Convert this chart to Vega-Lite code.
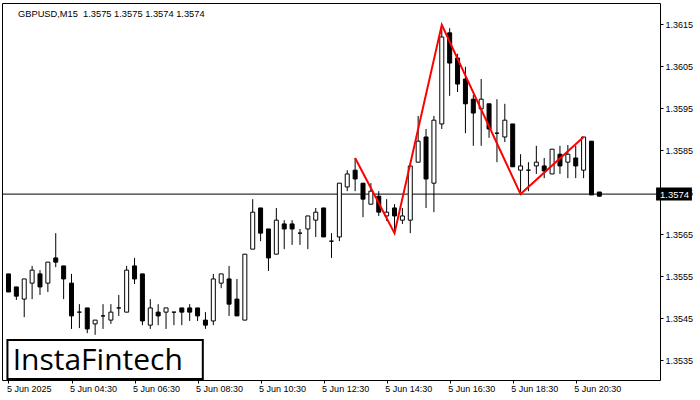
{
  "$schema": "https://vega.github.io/schema/vega-lite/v6.json",
  "width": 658,
  "height": 377,
  "autosize": {"type": "none"},
  "padding": {"left": 2, "top": 3, "right": 40, "bottom": 20},
  "background": "white",
  "config": {
    "view": {"stroke": "black", "strokeWidth": 1},
    "font": "Liberation Sans, sans-serif"
  },
  "title": {
    "text": "GBPUSD,M15\u00a0 1.3575 1.3575 1.3574 1.3574",
    "anchor": "start",
    "frame": "group",
    "offset": -13,
    "dx": 16,
    "dy": 10,
    "fontSize": 9.3,
    "fontWeight": "normal",
    "color": "black",
    "baseline": "alphabetic"
  },
  "datasets": {
    "candles": [
      {"t": "2025-06-05T02:30", "open": 1.35555, "high": 1.35555, "low": 1.35512, "close": 1.35512},
      {"t": "2025-06-05T02:45", "open": 1.35524, "high": 1.35524, "low": 1.35493, "close": 1.35502},
      {"t": "2025-06-05T03:00", "open": 1.35495, "high": 1.35543, "low": 1.35452, "close": 1.35543},
      {"t": "2025-06-05T03:15", "open": 1.35533, "high": 1.35574, "low": 1.35495, "close": 1.35564},
      {"t": "2025-06-05T03:30", "open": 1.35555, "high": 1.35564, "low": 1.35505, "close": 1.35524},
      {"t": "2025-06-05T03:45", "open": 1.35533, "high": 1.35583, "low": 1.35512, "close": 1.35583},
      {"t": "2025-06-05T04:00", "open": 1.35593, "high": 1.35652, "low": 1.35571, "close": 1.35583},
      {"t": "2025-06-05T04:15", "open": 1.35574, "high": 1.35574, "low": 1.35495, "close": 1.35543},
      {"t": "2025-06-05T04:30", "open": 1.35533, "high": 1.35555, "low": 1.35424, "close": 1.35455},
      {"t": "2025-06-05T04:45", "open": 1.35464, "high": 1.35483, "low": 1.35426, "close": 1.35464},
      {"t": "2025-06-05T05:00", "open": 1.35474, "high": 1.35474, "low": 1.35414, "close": 1.35424},
      {"t": "2025-06-05T05:15", "open": 1.35436, "high": 1.35445, "low": 1.35410, "close": 1.35445},
      {"t": "2025-06-05T05:30", "open": 1.35455, "high": 1.35483, "low": 1.35424, "close": 1.35455},
      {"t": "2025-06-05T05:45", "open": 1.35445, "high": 1.35483, "low": 1.35436, "close": 1.35464},
      {"t": "2025-06-05T06:00", "open": 1.35474, "high": 1.35505, "low": 1.35455, "close": 1.35474},
      {"t": "2025-06-05T06:15", "open": 1.35464, "high": 1.35574, "low": 1.35464, "close": 1.35564},
      {"t": "2025-06-05T06:30", "open": 1.35574, "high": 1.35593, "low": 1.35531, "close": 1.35543},
      {"t": "2025-06-05T06:45", "open": 1.35555, "high": 1.35555, "low": 1.35433, "close": 1.35443},
      {"t": "2025-06-05T07:00", "open": 1.35433, "high": 1.35495, "low": 1.35424, "close": 1.35474},
      {"t": "2025-06-05T07:15", "open": 1.35464, "high": 1.35483, "low": 1.35433, "close": 1.35455},
      {"t": "2025-06-05T07:30", "open": 1.35464, "high": 1.35474, "low": 1.35424, "close": 1.35474},
      {"t": "2025-06-05T07:45", "open": 1.35464, "high": 1.35464, "low": 1.35433, "close": 1.35464},
      {"t": "2025-06-05T08:00", "open": 1.35474, "high": 1.35474, "low": 1.35433, "close": 1.35464},
      {"t": "2025-06-05T08:15", "open": 1.35474, "high": 1.35483, "low": 1.35443, "close": 1.35464},
      {"t": "2025-06-05T08:30", "open": 1.35474, "high": 1.35474, "low": 1.35443, "close": 1.35455},
      {"t": "2025-06-05T08:45", "open": 1.35445, "high": 1.35464, "low": 1.35424, "close": 1.35433},
      {"t": "2025-06-05T09:00", "open": 1.35443, "high": 1.35555, "low": 1.35433, "close": 1.35543},
      {"t": "2025-06-05T09:15", "open": 1.35533, "high": 1.35555, "low": 1.35521, "close": 1.35555},
      {"t": "2025-06-05T09:30", "open": 1.35543, "high": 1.35574, "low": 1.35455, "close": 1.35483},
      {"t": "2025-06-05T09:45", "open": 1.35495, "high": 1.35543, "low": 1.35455, "close": 1.35455},
      {"t": "2025-06-05T10:00", "open": 1.35445, "high": 1.35602, "low": 1.35445, "close": 1.35602},
      {"t": "2025-06-05T10:15", "open": 1.35614, "high": 1.35733, "low": 1.35614, "close": 1.35702},
      {"t": "2025-06-05T10:30", "open": 1.35712, "high": 1.35712, "low": 1.35633, "close": 1.35652},
      {"t": "2025-06-05T10:45", "open": 1.35662, "high": 1.35662, "low": 1.35562, "close": 1.35593},
      {"t": "2025-06-05T11:00", "open": 1.35602, "high": 1.35712, "low": 1.35602, "close": 1.35683},
      {"t": "2025-06-05T11:15", "open": 1.35674, "high": 1.35683, "low": 1.35614, "close": 1.35662},
      {"t": "2025-06-05T11:30", "open": 1.35674, "high": 1.35683, "low": 1.35624, "close": 1.35662},
      {"t": "2025-06-05T11:45", "open": 1.35652, "high": 1.35662, "low": 1.35624, "close": 1.35652},
      {"t": "2025-06-05T12:00", "open": 1.35662, "high": 1.35693, "low": 1.35614, "close": 1.35693},
      {"t": "2025-06-05T12:15", "open": 1.35683, "high": 1.35712, "low": 1.35643, "close": 1.35702},
      {"t": "2025-06-05T12:30", "open": 1.35712, "high": 1.35712, "low": 1.35643, "close": 1.35643},
      {"t": "2025-06-05T12:45", "open": 1.35633, "high": 1.35652, "low": 1.35593, "close": 1.35633},
      {"t": "2025-06-05T13:00", "open": 1.35643, "high": 1.35771, "low": 1.35633, "close": 1.35771},
      {"t": "2025-06-05T13:15", "open": 1.35762, "high": 1.35802, "low": 1.35752, "close": 1.35793},
      {"t": "2025-06-05T13:30", "open": 1.35802, "high": 1.35831, "low": 1.35752, "close": 1.35781},
      {"t": "2025-06-05T13:45", "open": 1.35771, "high": 1.35771, "low": 1.35690, "close": 1.35733},
      {"t": "2025-06-05T14:00", "open": 1.35721, "high": 1.35771, "low": 1.35721, "close": 1.35752},
      {"t": "2025-06-05T14:15", "open": 1.35740, "high": 1.35752, "low": 1.35693, "close": 1.35702},
      {"t": "2025-06-05T14:30", "open": 1.35693, "high": 1.35733, "low": 1.35681, "close": 1.35702},
      {"t": "2025-06-05T14:45", "open": 1.35712, "high": 1.35721, "low": 1.35652, "close": 1.35693},
      {"t": "2025-06-05T15:00", "open": 1.35683, "high": 1.35712, "low": 1.35674, "close": 1.35693},
      {"t": "2025-06-05T15:15", "open": 1.35683, "high": 1.35812, "low": 1.35652, "close": 1.35812},
      {"t": "2025-06-05T15:30", "open": 1.35821, "high": 1.35931, "low": 1.35821, "close": 1.35871},
      {"t": "2025-06-05T15:45", "open": 1.35881, "high": 1.35900, "low": 1.35712, "close": 1.35781},
      {"t": "2025-06-05T16:00", "open": 1.35771, "high": 1.35931, "low": 1.35702, "close": 1.35921},
      {"t": "2025-06-05T16:15", "open": 1.35912, "high": 1.36148, "low": 1.35900, "close": 1.36119},
      {"t": "2025-06-05T16:30", "open": 1.36129, "high": 1.36140, "low": 1.35979, "close": 1.36057},
      {"t": "2025-06-05T16:45", "open": 1.36069, "high": 1.36079, "low": 1.35988, "close": 1.36007},
      {"t": "2025-06-05T17:00", "open": 1.36019, "high": 1.36048, "low": 1.35890, "close": 1.35960},
      {"t": "2025-06-05T17:15", "open": 1.35971, "high": 1.35981, "low": 1.35860, "close": 1.35938},
      {"t": "2025-06-05T17:30", "open": 1.35948, "high": 1.36019, "low": 1.35860, "close": 1.35971},
      {"t": "2025-06-05T17:45", "open": 1.35960, "high": 1.35960, "low": 1.35879, "close": 1.35900},
      {"t": "2025-06-05T18:00", "open": 1.35890, "high": 1.35971, "low": 1.35821, "close": 1.35890},
      {"t": "2025-06-05T18:15", "open": 1.35881, "high": 1.35960, "low": 1.35869, "close": 1.35921},
      {"t": "2025-06-05T18:30", "open": 1.35912, "high": 1.35912, "low": 1.35810, "close": 1.35810},
      {"t": "2025-06-05T18:45", "open": 1.35802, "high": 1.35840, "low": 1.35750, "close": 1.35812},
      {"t": "2025-06-05T19:00", "open": 1.35802, "high": 1.35821, "low": 1.35752, "close": 1.35802},
      {"t": "2025-06-05T19:15", "open": 1.35812, "high": 1.35860, "low": 1.35793, "close": 1.35821},
      {"t": "2025-06-05T19:30", "open": 1.35812, "high": 1.35831, "low": 1.35783, "close": 1.35800},
      {"t": "2025-06-05T19:45", "open": 1.35793, "high": 1.35852, "low": 1.35793, "close": 1.35852},
      {"t": "2025-06-05T20:00", "open": 1.35840, "high": 1.35860, "low": 1.35793, "close": 1.35812},
      {"t": "2025-06-05T20:15", "open": 1.35821, "high": 1.35862, "low": 1.35783, "close": 1.35840},
      {"t": "2025-06-05T20:30", "open": 1.35831, "high": 1.35860, "low": 1.35783, "close": 1.35812},
      {"t": "2025-06-05T20:45", "open": 1.35802, "high": 1.35881, "low": 1.35783, "close": 1.35881},
      {"t": "2025-06-05T21:00", "open": 1.35871, "high": 1.35871, "low": 1.35743, "close": 1.35743},
      {"t": "2025-06-05T21:15", "open": 1.3575, "high": 1.3575, "low": 1.3574, "close": 1.3574}
    ],
    "pattern": [
      {"t": "2025-06-05T13:30", "price": 1.35831},
      {"t": "2025-06-05T14:45", "price": 1.35652},
      {"t": "2025-06-05T16:15", "price": 1.36148},
      {"t": "2025-06-05T18:45", "price": 1.35745},
      {"t": "2025-06-05T20:45", "price": 1.35881}
    ]
  },
  "layer": [
    {
      "data": {"values": [{}]},
      "mark": {"type": "rule", "color": "black", "strokeWidth": 1},
      "encoding": {"y": {"datum": 1.35745, "type": "quantitative"}}
    },
    {
      "data": {"name": "candles"},
      "mark": {"type": "rule", "color": "black", "strokeWidth": 1},
      "encoding": {
        "x": {
          "field": "t",
          "type": "temporal",
          "scale": {
            "domain": [
              {"year": 2025, "month": 6, "date": 5, "hours": 2, "minutes": 27, "seconds": 11, "milliseconds": 250},
              {"year": 2025, "month": 6, "date": 5, "hours": 23, "minutes": 0, "seconds": 56, "milliseconds": 250}
            ],
            "nice": false
          },
          "axis": {
            "orient": "bottom",
            "title": null,
            "values": [
              {"year": 2025, "month": 6, "date": 5, "hours": 2, "minutes": 30},
              {"year": 2025, "month": 6, "date": 5, "hours": 4, "minutes": 30},
              {"year": 2025, "month": 6, "date": 5, "hours": 6, "minutes": 30},
              {"year": 2025, "month": 6, "date": 5, "hours": 8, "minutes": 30},
              {"year": 2025, "month": 6, "date": 5, "hours": 10, "minutes": 30},
              {"year": 2025, "month": 6, "date": 5, "hours": 12, "minutes": 30},
              {"year": 2025, "month": 6, "date": 5, "hours": 14, "minutes": 30},
              {"year": 2025, "month": 6, "date": 5, "hours": 16, "minutes": 30},
              {"year": 2025, "month": 6, "date": 5, "hours": 18, "minutes": 30},
              {"year": 2025, "month": 6, "date": 5, "hours": 20, "minutes": 30}
            ],
            "labelExpr": "hours(datum.value) == 2 ? '5 Jun 2025' : timeFormat(datum.value, '%-d %b %H:%M')",
            "labelAlign": "left",
            "labelFlush": false,
            "labelOverlap": false,
            "labelOffset": -2,
            "tickSize": 3,
            "tickColor": "black",
            "labelPadding": 1,
            "labelFontSize": 9,
            "labelColor": "black",
            "domain": false,
            "grid": false
          }
        },
        "y": {
          "field": "low",
          "type": "quantitative",
          "scale": {"domain": [1.353024, 1.362], "nice": false, "zero": false},
          "axis": {
            "orient": "right",
            "title": null,
            "values": [1.3535, 1.3545, 1.3555, 1.3565, 1.3575, 1.3585, 1.3595, 1.3605, 1.3615],
            "format": ".4f",
            "tickSize": 3,
            "tickColor": "black",
            "labelPadding": 2,
            "labelFontSize": 9,
            "labelColor": "black",
            "labelOverlap": false,
            "domain": false,
            "grid": false
          }
        },
        "y2": {"field": "high"}
      }
    },
    {
      "data": {"name": "candles"},
      "mark": {"type": "bar", "size": 4, "stroke": "black", "strokeWidth": 1},
      "encoding": {
        "x": {"field": "t", "type": "temporal"},
        "y": {"field": "open", "type": "quantitative"},
        "y2": {"field": "close"},
        "fill": {
          "condition": {"test": "datum.close > datum.open", "value": "white"},
          "value": "black"
        }
      }
    },
    {
      "data": {"name": "pattern"},
      "mark": {"type": "line", "color": "#ff0000", "strokeWidth": 2},
      "encoding": {
        "x": {"field": "t", "type": "temporal"},
        "y": {"field": "price", "type": "quantitative"}
      }
    },
    {
      "data": {"values": [{}]},
      "mark": {"type": "rect", "fill": "white", "stroke": "black", "strokeWidth": 2},
      "encoding": {
        "x": {"datum": {"year": 2025, "month": 6, "date": 5, "hours": 2, "minutes": 28, "seconds": 0}, "type": "temporal"},
        "x2": {"datum": {"year": 2025, "month": 6, "date": 5, "hours": 8, "minutes": 40, "seconds": 0}},
        "y": {"datum": 1.353976, "type": "quantitative"},
        "y2": {"datum": 1.353048}
      }
    },
    {
      "data": {"values": [{"label": "InstaFintech"}]},
      "mark": {"type": "text", "font": "Open Sans", "fontSize": 30, "color": "black", "align": "center", "baseline": "alphabetic"},
      "encoding": {
        "x": {"datum": {"year": 2025, "month": 6, "date": 5, "hours": 5, "minutes": 20, "seconds": 0}, "type": "temporal"},
        "y": {"datum": 1.353262, "type": "quantitative"},
        "text": {"field": "label"}
      }
    },
    {
      "data": {"values": [{}]},
      "mark": {
        "type": "point",
        "shape": "M0.06,-0.36L2.05,-0.36L2.05,0.36L0.06,0.36Z",
        "size": 1296,
        "filled": true,
        "fill": "black",
        "opacity": 1,
        "strokeWidth": 0,
        "clip": false
      },
      "encoding": {
        "x": {"datum": {"year": 2025, "month": 6, "date": 5, "hours": 23, "minutes": 0, "seconds": 56, "milliseconds": 250}, "type": "temporal"},
        "y": {"datum": 1.35745, "type": "quantitative"}
      }
    },
    {
      "data": {"values": [{"label": "1.3574"}]},
      "mark": {"type": "text", "color": "white", "fontSize": 9.5, "align": "left", "baseline": "middle", "dx": 5, "dy": 0.5, "clip": false},
      "encoding": {
        "x": {"datum": {"year": 2025, "month": 6, "date": 5, "hours": 23, "minutes": 0, "seconds": 56, "milliseconds": 250}, "type": "temporal"},
        "y": {"datum": 1.35745, "type": "quantitative"},
        "text": {"field": "label"}
      }
    }
  ]
}
